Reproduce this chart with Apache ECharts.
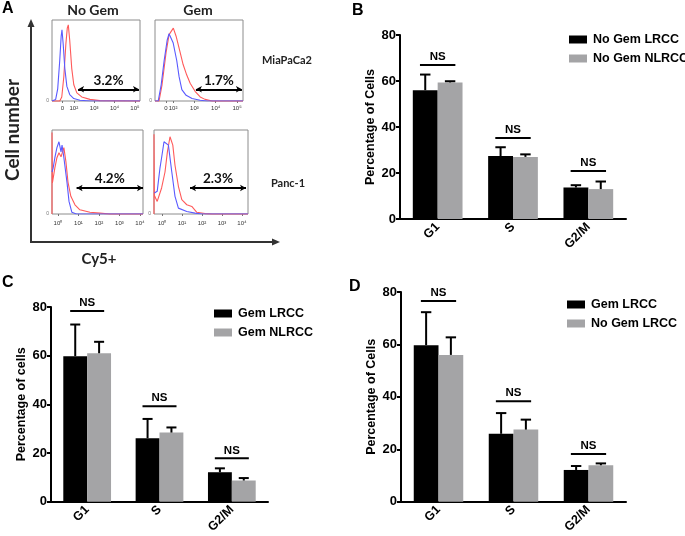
<!DOCTYPE html>
<html><head><meta charset="utf-8">
<script src="https://cdn.jsdelivr.net/npm/echarts@6/dist/echarts.min.js"></script>
<style>html,body{margin:0;padding:0;background:#fff}#c{width:685px;height:536px}</style>
</head><body><div id="c"></div>
<script>
// ---------- Panel A data (flow cytometry histograms) ----------
const topTickLabels = ['0','10²','10³','10⁴','10⁵'];
const tlTickVals = [1.44, 2, 3, 4, 5];
const trTickVals = [1.66, 2, 3, 4, 5];
const bottomTickLabels = ['10⁰','10¹','10²','10³','10⁴'];
const bottomTickVals = [0, 1, 2, 3, 4];
const pctLabels = ['3.2%','1.7%','4.2%','2.3%'];
const gateStart = [2.21, 3.07, 0.91, 1.4];
const gateEnd = [5.2, 5.23, 4.15, 4.2];
const gateLevel = [0.145, 0.145, 0.31, 0.31];

const tlBlue = [[0.93,0],[1.11,0.02],[1.21,0.15],[1.31,0.5],[1.38,0.8],[1.42,0.88],[1.48,0.7],[1.56,0.4],[1.66,0.18],[1.8,0.08],[2.0,0.03],[2.3,0.01],[2.8,0],[5.25,0]];
const tlRed = [[0.93,0],[1.31,0],[1.41,0.05],[1.51,0.3],[1.61,0.7],[1.68,0.9],[1.73,0.94],[1.8,0.75],[1.9,0.4],[2.0,0.2],[2.15,0.1],[2.39,0.05],[2.79,0.02],[3.28,0.005],[5.25,0]];
const trBlue = [[1.15,0],[1.3,0],[1.44,0.2],[1.58,0.5],[1.72,0.75],[1.81,0.83],[1.88,0.82],[2.0,0.72],[2.17,0.5],[2.28,0.3],[2.41,0.14],[2.61,0.07],[2.89,0.03],[3.27,0.01],[3.6,0],[5.28,0]];
const trRed = [[1.15,0],[1.34,0],[1.48,0.2],[1.67,0.6],[1.81,0.82],[1.91,0.86],[2.01,0.9],[2.14,0.8],[2.33,0.6],[2.47,0.45],[2.64,0.32],[2.8,0.22],[3.03,0.12],[3.27,0.05],[3.5,0.02],[3.83,0],[5.28,0]];
const blBlue = [[-0.29,0.5],[-0.24,0.54],[-0.15,0.67],[-0.05,0.79],[0.05,0.86],[0.15,0.74],[0.2,0.82],[0.29,0.67],[0.44,0.38],[0.54,0.15],[0.68,0.02],[0.9,0],[4.15,0]];
const blRed = [[-0.29,0],[-0.29,0.97],[-0.27,0.37],[-0.15,0.55],[-0.05,0.67],[0.05,0.73],[0.15,0.68],[0.25,0.76],[0.29,0.79],[0.39,0.62],[0.49,0.38],[0.63,0.21],[0.83,0.11],[1.07,0.05],[1.56,0.02],[2.05,0.01],[2.54,0],[4.15,0]];
const brBlue = [[-0.38,0.25],[-0.24,0.27],[-0.1,0.55],[-0.02,0.67],[0.1,0.86],[0.15,0.88],[0.32,0.82],[0.49,0.5],[0.65,0.21],[0.82,0.07],[1.24,0.03],[1.65,0.01],[2.0,0],[4.3,0]];
const brRed = [[-0.4,0],[-0.4,0.95],[-0.38,0.22],[-0.24,0.15],[-0.02,0.31],[0.15,0.5],[0.27,0.74],[0.4,0.92],[0.54,0.82],[0.65,0.58],[0.82,0.33],[0.99,0.17],[1.24,0.11],[1.49,0.09],[1.74,0.02],[2.15,0.005],[2.5,0],[4.3,0]];

// ---------- Bar panels ----------
const phases = ['G1','S','G2/M'];
const yTicks = [0, 20, 40, 60, 80];
// B
const bNames = ['No Gem LRCC','No Gem NLRCC'];
const bLRCC = [56, 27.4, 13.7];
const bLRCCErr = [62.8, 31.2, 14.7];
const bNLRCC = [59.4, 27, 13];
const bNLRCCErr = [59.9, 28.1, 16.3];
const bNS = [67, 35.2, 20.9];
// C
const cNames = ['Gem LRCC','Gem NLRCC'];
const cLRCC = [59.8, 26.1, 12.1];
const cLRCCErr = [72.8, 34, 13.7];
const cNLRCC = [61, 28.4, 8.7];
const cNLRCCErr = [65.7, 30.5, 9.7];
const cNS = [78.4, 39.2, 17.8];
// D
const dNames = ['Gem LRCC','No Gem LRCC'];
const dGem = [59.7, 25.9, 12.1];
const dGemErr = [72.3, 33.8, 13.6];
const dNoGem = [56, 27.5, 13.9];
const dNoGemErr = [62.7, 31.3, 14.6];
const dNS = [76.6, 38.3, 18.2];

const AR = 'Liberation Sans';
const CAL = 'Lato';
const BLACK = '#000';
const GRAY = '#a4a4a6';
const BLUE = '#5a5aff';
const RED = '#ff5a5a';

function histX(gi, min, max, vals, labels, margin) {
  return {type:'value', gridIndex:gi, min, max,
    axisLine:{show:false}, splitLine:{show:false},
    axisTick:{show:true, customValues:vals, length:2, lineStyle:{color:'#777'}},
    axisLabel:{customValues:vals, formatter:v => labels[vals.findIndex(t => Math.abs(t - v) < 1e-6)] || '',
      fontSize:6, color:'#333', margin:margin, fontFamily:AR}};
}
function histY(gi) {
  return {type:'value', gridIndex:gi, min:0, max:1,
    axisLine:{show:false}, splitLine:{show:false}, axisTick:{show:false},
    axisLabel:{customValues:[0], formatter:() => '0', fontSize:5, color:'#777', margin:3}};
}
function barX(gi) {
  return {type:'category', gridIndex:gi, data:phases,
    axisLine:{lineStyle:{color:BLACK, width:2}},
    axisTick:{alignWithLabel:true, length:4, lineStyle:{width:2, color:BLACK}},
    axisLabel:{rotate:45, fontWeight:'bold', fontSize:12.5, color:BLACK, fontFamily:AR, margin:6}};
}
function barY(gi, name) {
  return {type:'value', gridIndex:gi, min:0, max:80, interval:20, name, nameLocation:'middle', nameGap:23,
    nameTextStyle:{fontWeight:'bold', fontSize:12.5, color:BLACK, fontFamily:AR},
    axisLine:{show:true, lineStyle:{color:BLACK, width:2}},
    axisTick:{show:true, length:4, lineStyle:{width:2, color:BLACK}},
    splitLine:{show:false},
    axisLabel:{customValues:yTicks, fontWeight:'bold', fontSize:13, color:BLACK, margin:4, fontFamily:AR}};
}

function errRender(params, api) {
  const idx = api.value(0), v = api.value(1), e = api.value(2), side = api.value(3);
  const catW = api.size([1, 0])[0];
  const bw = catW * 0.33;
  const p0 = api.coord([idx, v]);
  const p1 = api.coord([idx, e]);
  const x = p0[0] + side * bw / 2;
  const cap = bw * 0.21;
  return {type:'group', children:[
    {type:'line', shape:{x1:x, y1:p0[1], x2:x, y2:p1[1]}, style:{stroke:BLACK, lineWidth:2}},
    {type:'line', shape:{x1:x - cap, y1:p1[1], x2:x + cap, y2:p1[1]}, style:{stroke:BLACK, lineWidth:2}}
  ]};
}
function nsRender(params, api) {
  const idx = api.value(0), lvl = api.value(1);
  const catW = api.size([1, 0])[0];
  const c = api.coord([idx, lvl]);
  const hw = catW * 0.235;
  return {type:'group', children:[
    {type:'line', shape:{x1:c[0] - hw, y1:c[1], x2:c[0] + hw, y2:c[1]}, style:{stroke:BLACK, lineWidth:2}},
    {type:'text', style:{text:'NS', x:c[0], y:c[1] - 8, align:'center', verticalAlign:'middle',
      font:'bold 11.5px "Liberation Sans"', fill:BLACK}}
  ]};
}

function barPanel(ai, names, v1, e1, v2, e2, ns) {
  return [
    {type:'bar', name:names[0], xAxisIndex:ai, yAxisIndex:ai, data:v1, barWidth:'33%', barGap:'0%', itemStyle:{color:BLACK}},
    {type:'bar', name:names[1], xAxisIndex:ai, yAxisIndex:ai, data:v2, barWidth:'33%', barGap:'0%', itemStyle:{color:GRAY}},
    {type:'custom', xAxisIndex:ai, yAxisIndex:ai, renderItem:errRender, silent:true, z:5,
      data:v1.map((v, i) => [i, v, e1[i], -1])},
    {type:'custom', xAxisIndex:ai, yAxisIndex:ai, renderItem:errRender, silent:true, z:5,
      data:v2.map((v, i) => [i, v, e2[i], 1])},
    {type:'custom', xAxisIndex:ai, yAxisIndex:ai, renderItem:nsRender, silent:true, z:5,
      data:ns.map((v, i) => [i, v])}
  ];
}

function histSeries(ai, blue, red, k) {
  return [
    {type:'line', xAxisIndex:ai, yAxisIndex:ai, data:blue, showSymbol:false, symbol:'none',
      lineStyle:{color:BLUE, width:1.1}, silent:true, z:3},
    {type:'line', xAxisIndex:ai, yAxisIndex:ai, data:red, showSymbol:false, symbol:'none',
      lineStyle:{color:RED, width:1.1}, silent:true, z:2, clip:false,
      markLine:{silent:true, symbol:['arrow','arrow'], symbolSize:[5,6], animation:false,
        lineStyle:{color:'#000', width:2, type:'solid'},
        label:{show:true, position:'insideMiddleTop', formatter:pctLabels[k], fontWeight:'bold',
          fontSize:13.5, color:'#111', fontFamily:CAL, distance:2},
        data:[[{coord:[gateStart[k], gateLevel[k]]}, {coord:[gateEnd[k], gateLevel[k]]}]]}}
  ];
}

function legendFor(names, left, top) {
  return {orient:'vertical', left, top, itemWidth:18, itemHeight:8, itemGap:6, icon:'rect', selectedMode:false,
    textStyle:{fontWeight:'bold', fontSize:12.5, color:BLACK, fontFamily:AR, padding:[0,0,0,1]},
    data:[{name:names[0], itemStyle:{color:BLACK}}, {name:names[1], itemStyle:{color:GRAY}}]};
}

const boxStyle = {show:true, borderColor:'#8c8c8c', borderWidth:1, backgroundColor:'transparent'};

const option = {
  animation:false,
  grid:[
    Object.assign({left:52, top:20, width:88, height:81}, boxStyle),
    Object.assign({left:155, top:20, width:88, height:81}, boxStyle),
    Object.assign({left:52, top:130, width:91, height:84}, boxStyle),
    Object.assign({left:154, top:130, width:94, height:84}, boxStyle),
    {left:400, top:35, width:226, height:184},
    {left:51, top:307, width:217, height:198},
    {left:401, top:292, width:225, height:213}
  ],
  xAxis:[
    histX(0, 0.93, 5.25, tlTickVals, topTickLabels, 4),
    histX(1, 1.15, 5.28, trTickVals, topTickLabels, 4),
    histX(2, -0.29, 4.15, bottomTickVals, bottomTickLabels, 6),
    histX(3, -0.4, 4.3, bottomTickVals, bottomTickLabels, 6),
    barX(4), barX(5), barX(6)
  ],
  yAxis:[
    histY(0), histY(1), histY(2), histY(3),
    barY(4, 'Percentage of Cells'), barY(5, 'Percentage of cells'), barY(6, 'Percentage of Cells')
  ],
  legend:[
    legendFor(bNames, 564, 28),
    legendFor(cNames, 209, 302),
    legendFor(dNames, 562, 293)
  ],
  series:[].concat(
    histSeries(0, tlBlue, tlRed, 0),
    histSeries(1, trBlue, trRed, 1),
    histSeries(2, blBlue, blRed, 2),
    histSeries(3, brBlue, brRed, 3),
    barPanel(4, bNames, bLRCC, bLRCCErr, bNLRCC, bNLRCCErr, bNS),
    barPanel(5, cNames, cLRCC, cLRCCErr, cNLRCC, cNLRCCErr, cNS),
    barPanel(6, dNames, dGem, dGemErr, dNoGem, dNoGemErr, dNS)
  ),
  graphic:[
    {type:'text', left:2, top:1, style:{text:'A', font:'bold 16px "Liberation Sans"', fill:'#000'}},
    {type:'text', left:352, top:3, style:{text:'B', font:'bold 16px "Liberation Sans"', fill:'#000'}},
    {type:'text', left:2, top:275, style:{text:'C', font:'bold 16px "Liberation Sans"', fill:'#000'}},
    {type:'text', left:349, top:279, style:{text:'D', font:'bold 16px "Liberation Sans"', fill:'#000'}},
    {type:'line', shape:{x1:31, y1:242, x2:31, y2:25}, style:{stroke:'#333', lineWidth:2}},
    {type:'polygon', shape:{points:[[31,19],[27.5,27],[34.5,27]]}, style:{fill:'#333'}},
    {type:'line', shape:{x1:30, y1:242, x2:273, y2:242}, style:{stroke:'#333', lineWidth:2}},
    {type:'polygon', shape:{points:[[280,242],[272,238.5],[272,245.5]]}, style:{fill:'#333'}},
    {type:'text', x:13, y:130, rotation:Math.PI/2, style:{text:'Cell number', font:'bold 19px Lato', fill:'#222', align:'center', verticalAlign:'middle'}},
    {type:'text', x:99, y:259, style:{text:'Cy5+', font:'bold 15px Lato', fill:'#222', align:'center', verticalAlign:'middle'}},
    {type:'text', x:93, y:10, style:{text:'No Gem', font:'bold 14px Lato', fill:'#222', align:'center', verticalAlign:'middle'}},
    {type:'text', x:198, y:10, style:{text:'Gem', font:'bold 14px Lato', fill:'#222', align:'center', verticalAlign:'middle'}},
    {type:'text', x:287, y:60, style:{text:'MiaPaCa2', font:'bold 11px Lato', fill:'#222', align:'center', verticalAlign:'middle'}},
    {type:'text', x:288, y:183, style:{text:'Panc-1', font:'bold 11px Lato', fill:'#222', align:'center', verticalAlign:'middle'}}
  ]
};

const chart = echarts.init(document.getElementById('c'), null, {renderer:'canvas'});
chart.setOption(option);
</script>
</body></html>
